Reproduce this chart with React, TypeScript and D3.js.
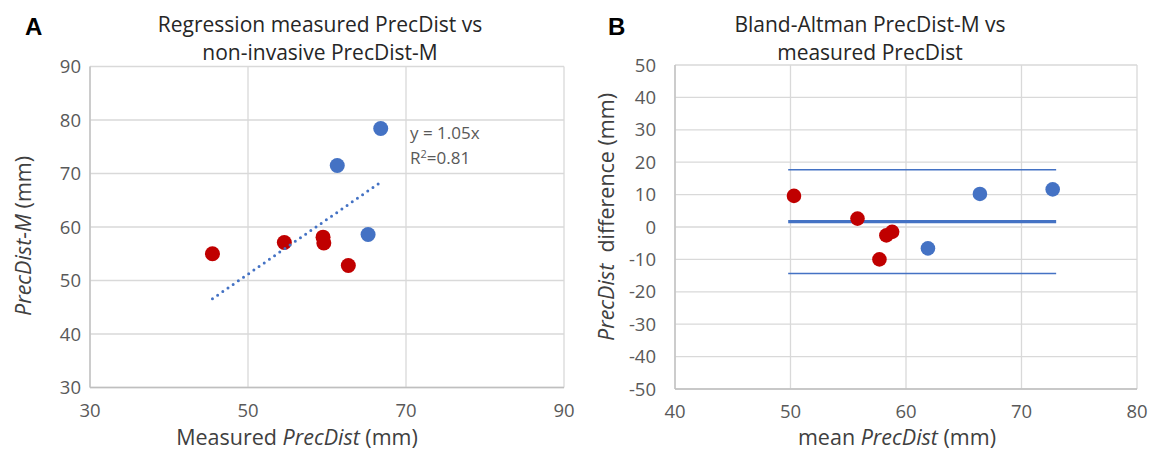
import React from "react";
import * as d3 from "d3";

// Panel A: regression
const regMeasured = [66.8, 61.3, 65.2, 45.5, 54.6, 59.5, 59.6, 62.7];
const regPredicted = [78.4, 71.5, 58.6, 55.0, 57.1, 58.1, 57.0, 52.8];
const regGroup = ["b", "b", "b", "r", "r", "r", "r", "r"];
const regXTicks = [30, 50, 70, 90];
const regYTicks = [30, 40, 50, 60, 70, 80, 90];

// Panel B: Bland-Altman
const baMean = [72.7, 66.4, 61.9, 50.3, 55.8, 58.8, 58.3, 57.7];
const baDiff = [11.6, 10.2, -6.6, 9.6, 2.6, -1.5, -2.6, -10.0];
const baGroup = ["b", "b", "b", "r", "r", "r", "r", "r"];
const baLineRange = [49.8, 73.0];
const baXTicks = [40, 50, 60, 70, 80];
const baYTicks = [-50, -40, -30, -20, -10, 0, 10, 20, 30, 40, 50];

const colors: Record<string, string> = { b: "#4472C4", r: "#C00000" };
const FONT = "'Open Sans', sans-serif";
const GRID = "#D9D9D9";
const TXT = "#595959";
const TICK = 18.5;
const AXT = 21.5;
const TITLE = 21;

export default function App() {
  // Panel A scales
  const ax = d3.scaleLinear().domain([30, 90]).range([90, 564]);
  const ay = d3.scaleLinear().domain([30, 90]).range([387.5, 66.5]);
  // regression through origin
  const slope =
    d3.sum(regMeasured.map((x, i) => x * regPredicted[i])) /
    d3.sum(regMeasured.map((x) => x * x));
  const [xmin, xmax] = d3.extent(regMeasured) as [number, number];
  const trend = d3.line<number>().x((x) => ax(x)).y((x) => ay(slope * x));

  // Panel B scales
  const bx = d3.scaleLinear().domain([40, 80]).range([675, 1137]);
  const by = d3.scaleLinear().domain([-50, 50]).range([389, 65]);
  const meanDiff = d3.mean(baDiff) as number;
  const sd = d3.deviation(baDiff) as number;
  const upper = meanDiff + 1.96 * sd;
  const lower = meanDiff - 1.96 * sd;

  return (
    <svg
      width={1151}
      height={453}
      style={{ position: "absolute", left: 0, top: 0, background: "#fff" }}
      fontFamily={FONT}
    >
      <rect width={1151} height={453} fill="#fff" />
      {/* ===== Panel A ===== */}
      <text x={25} y={35} fontSize={24} fontWeight="bold" fill="#000" fontFamily="Arial, 'Liberation Sans', sans-serif">A</text>
      <text x={320} y={32} textAnchor="middle" fontSize={TITLE} fill="#262626">Regression measured PrecDist vs</text>
      <text x={320} y={60} textAnchor="middle" fontSize={TITLE} fill="#262626">non-invasive PrecDist-M</text>
      {regYTicks.map((t) => (
        <line key={"ay" + t} x1={ax(30)} x2={ax(90)} y1={ay(t)} y2={ay(t)} stroke={GRID} strokeWidth={1.3} />
      ))}
      {regXTicks.map((t) => (
        <line key={"ax" + t} x1={ax(t)} x2={ax(t)} y1={ay(30)} y2={ay(90)} stroke={GRID} strokeWidth={1.3} />
      ))}
      <line x1={ax(30)} x2={ax(90)} y1={ay(30)} y2={ay(30)} stroke="#BFBFBF" strokeWidth={1.3} />
      <line x1={ax(30)} x2={ax(30)} y1={ay(30)} y2={ay(90)} stroke="#BFBFBF" strokeWidth={1.3} />
      {regYTicks.map((t) => (
        <text key={"ayl" + t} x={81} y={ay(t) + 6.5} textAnchor="end" fontSize={TICK} fill={TXT}>{t}</text>
      ))}
      {regXTicks.map((t) => (
        <text key={"axl" + t} x={ax(t)} y={417} textAnchor="middle" fontSize={TICK} fill={TXT}>{t}</text>
      ))}
      <text x={297} y={445} textAnchor="middle" fontSize={AXT} fill="#404040">
        Measured <tspan fontStyle="italic">PrecDist</tspan> (mm)
      </text>
      <text transform={`translate(31,${236}) rotate(-90)`} textAnchor="middle" fontSize={AXT} fill="#404040">
        <tspan fontStyle="italic">PrecDist-M</tspan> (mm)
      </text>
      {regMeasured.map((x, i) => (
        <circle key={"ap" + i} cx={ax(x)} cy={ay(regPredicted[i])} r={7.5} fill={colors[regGroup[i]]} />
      ))}
      <path
        d={trend([xmin, xmax]) || ""}
        fill="none"
        stroke="#4472C4"
        strokeWidth={3}
        strokeLinecap="round"
        strokeDasharray="0 6.3"
      />
      <text x={410} y={139} fontSize={17} fill={TXT}>y = 1.05x</text>
      <text x={410} y={164} fontSize={17} fill={TXT}>
        R<tspan fontSize={11} dy={-6}>2</tspan><tspan dy={6}>=0.81</tspan>
      </text>

      {/* ===== Panel B ===== */}
      <text x={608} y={35} fontSize={24} fontWeight="bold" fill="#000" fontFamily="Arial, 'Liberation Sans', sans-serif">B</text>
      <text x={870} y={32} textAnchor="middle" fontSize={TITLE} fill="#262626">Bland-Altman PrecDist-M vs</text>
      <text x={870} y={60} textAnchor="middle" fontSize={TITLE} fill="#262626">measured PrecDist</text>
      {baYTicks.map((t) => (
        <line key={"by" + t} x1={bx(40)} x2={bx(80)} y1={by(t)} y2={by(t)} stroke={GRID} strokeWidth={1.3} />
      ))}
      {baXTicks.map((t) => (
        <line key={"bx" + t} x1={bx(t)} x2={bx(t)} y1={by(-50)} y2={by(50)} stroke={GRID} strokeWidth={1.3} />
      ))}
      <line x1={bx(40)} x2={bx(80)} y1={by(-50)} y2={by(-50)} stroke="#BFBFBF" strokeWidth={1.3} />
      <line x1={bx(40)} x2={bx(40)} y1={by(-50)} y2={by(50)} stroke="#BFBFBF" strokeWidth={1.3} />
      {baYTicks.map((t) => (
        <text key={"byl" + t} x={656} y={by(t) + 6.5} textAnchor="end" fontSize={TICK} fill={TXT}>{t}</text>
      ))}
      {baXTicks.map((t) => (
        <text key={"bxl" + t} x={bx(t)} y={418} textAnchor="middle" fontSize={TICK} fill={TXT}>{t}</text>
      ))}
      <text x={897} y={445} textAnchor="middle" fontSize={AXT} fill="#404040">
        mean <tspan fontStyle="italic">PrecDist</tspan> (mm)
      </text>
      <text transform={`translate(614,${217}) rotate(-90)`} textAnchor="middle" fontSize={AXT} fill="#404040">
        <tspan fontStyle="italic">PrecDist</tspan>{"\u00A0 difference (mm)"}
      </text>
      <line x1={bx(baLineRange[0])} x2={bx(baLineRange[1])} y1={by(upper)} y2={by(upper)} stroke="#4472C4" strokeWidth={1.6} />
      <line x1={bx(baLineRange[0])} x2={bx(baLineRange[1])} y1={by(lower)} y2={by(lower)} stroke="#4472C4" strokeWidth={1.6} />
      <line x1={bx(baLineRange[0])} x2={bx(baLineRange[1])} y1={by(meanDiff)} y2={by(meanDiff)} stroke="#4472C4" strokeWidth={3.2} />
      {baMean.map((x, i) => (
        <circle key={"bp" + i} cx={bx(x)} cy={by(baDiff[i])} r={7.3} fill={colors[baGroup[i]]} />
      ))}
    </svg>
  );
}
